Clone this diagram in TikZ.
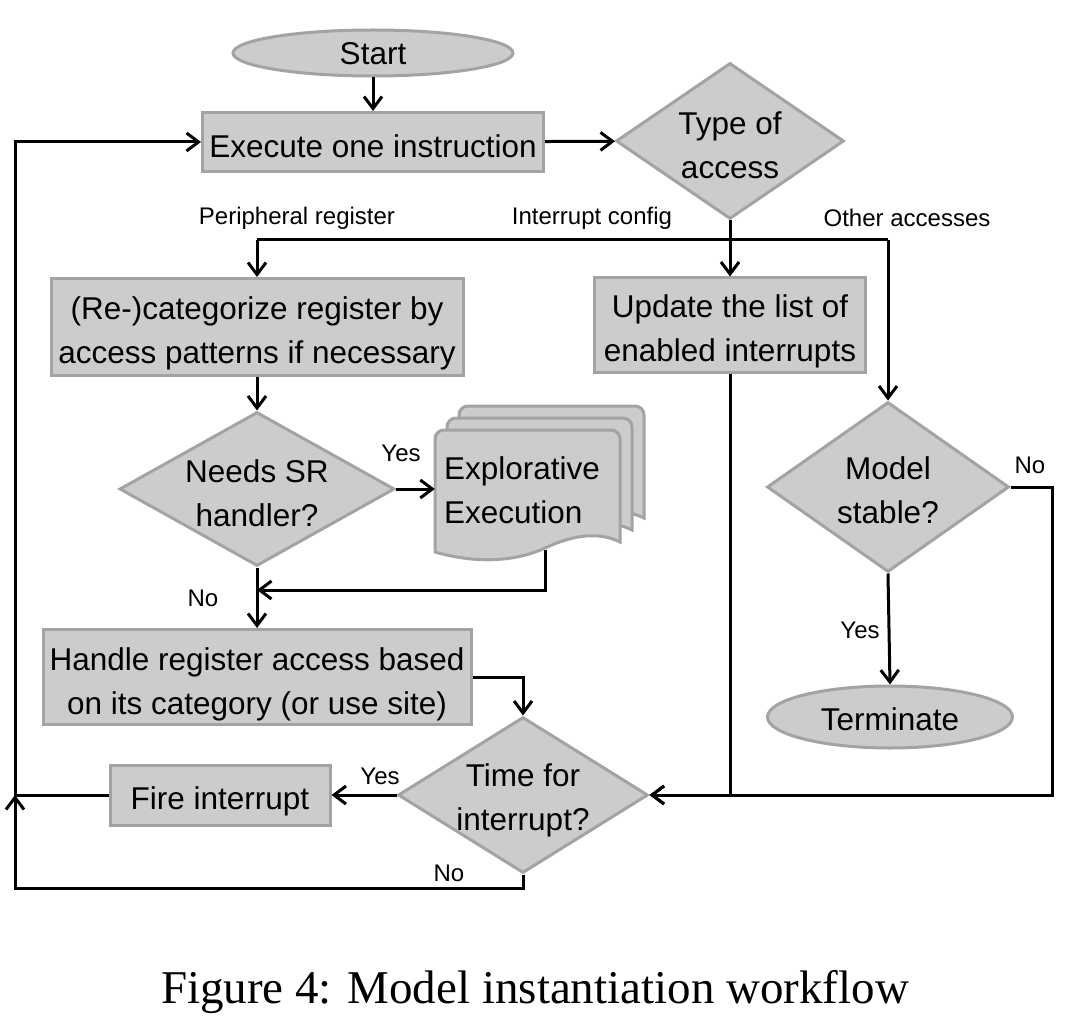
\documentclass[tikz,border=0pt]{standalone}
\usepackage{fontspec}
\setmainfont{Liberation Sans}
\newfontfamily\capserif{Liberation Serif}
\usetikzlibrary{arrows.meta,shapes.geometric}
\definecolor{fillgray}{HTML}{CCCCCC}
\definecolor{edgegray}{HTML}{A3A3A3}
\newcommand\mytxtL{\fontsize{31.5}{44}\selectfont}
\newcommand\mytxtS{\fontsize{24}{28}\selectfont}
\begin{document}
\begin{tikzpicture}[x=1pt,y=-1pt,
  shp/.style={draw=edgegray,fill=fillgray,line width=3pt,inner sep=0pt},
  boxn/.style={shp,rectangle},
  ell/.style={shp,ellipse},
  dia/.style={shp,diamond},
  tx/.style={font=\mytxtL,align=center,inner sep=0pt},
  conn/.style={line width=3pt,-{Straight Barb[length=12pt,width=18pt]}},
  lin/.style={line width=3pt},
  lbl/.style={font=\mytxtS,inner sep=0pt},
  docl/.style={draw=edgegray,fill=fillgray,line width=3pt}]
\useasboundingbox (0,0) rectangle (1079,1024);

% nodes
\node[ell,minimum width=280,minimum height=46,label={[tx,yshift=-1pt]center:Start}] (start) at (373,53) {};
\node[boxn,minimum width=341,minimum height=59,label={[tx,yshift=-4pt]center:Execute one instruction}] (exec) at (373,142) {};
\node[dia,minimum width=228,minimum height=156,label={[tx,yshift=-4pt]center:Type of\\access}] (toa) at (730,141) {};
\node[boxn,minimum width=412,minimum height=97,label={[tx,yshift=-6pt]center:(Re-)categorize register by\\access patterns if necessary}] (recat) at (257,327) {};
\node[boxn,minimum width=271,minimum height=94,label={[tx,yshift=-6pt]center:Update the list of\\enabled interrupts}] (upd) at (730,325) {};
\node[dia,minimum width=275,minimum height=154,label={[tx,yshift=-4pt]center:Needs SR\\handler?}] (nsr) at (257,489) {};
\node[boxn,minimum width=428,minimum height=95,label={[tx,yshift=-7pt]center:Handle register access based\\on its category (or use site)}] (handle) at (257,677) {};
\node[dia,minimum width=250,minimum height=156,label={[tx,yshift=-5pt]center:Time for\\interrupt?}] (tfi) at (523,795) {};
\node[boxn,minimum width=220,minimum height=60,label={[tx,yshift=-6pt]center:Fire interrupt}] (fire) at (220,795) {};
\node[dia,minimum width=242,minimum height=170,label={[tx,yshift=-3pt]center:Model\\stable?}] (ms) at (888,487) {};
\node[ell,minimum width=245,minimum height=62,label={[tx,yshift=-2pt]center:Terminate}] (term) at (890,717) {};

% explorative execution (stacked documents)
\foreach \dx/\dy in {24/-24,12/-12,0/0}{
  \draw[docl,rounded corners=9pt]
    (435+\dx,552+\dy) -- (435+\dx,430+\dy) -- (620+\dx,430+\dy)
    [sharp corners] -- (620+\dx,542+\dy)
    .. controls (600+\dx,532+\dy) and (575+\dx,534+\dy) .. (545+\dx,548+\dy)
    .. controls (510+\dx,564+\dy) and (470+\dx,562+\dy) .. (435+\dx,552+\dy) -- cycle;
}
\node[minimum width=185,minimum height=120,inner sep=0pt] (expl) at (527.5,490) {};
\node[tx,align=left] (expltxt) at (522,490) {Explorative\\Execution};
\coordinate (explbot) at (545,550);

% helper coordinates
\coordinate (brL) at (257,240);
\coordinate (brR) at (888,240);
\coordinate (j1) at (257,590);
\coordinate (loopT) at (15,142);
\coordinate (loopB) at (15,888);
\coordinate (msR) at (1052,487);

% connectors
\draw[conn] (start) -- (exec);
\draw[conn] (exec) -- (toa);
\draw[conn] (toa.south) -- (upd.north);
\draw[lin] (brL) -- (brR);
\draw[conn] (brL) -- (recat.north);
\draw[conn] (brR) -- (ms.north);
\draw[conn] (recat.south) -- (nsr.north);
\draw[conn] (nsr.east) -- (nsr.east -| expl.west);
\draw[conn] (explbot) |- (j1);
\draw[conn] (nsr.south) -- (handle.north);
\draw[conn] (handle.east) -| (tfi.north);
\draw[conn] (tfi.west) -- (fire.east);
\draw[conn] (fire.west) -- (fire.west -| loopT) -- (loopT) -- (exec.west);
\draw[conn] (tfi.south) |- (loopB) -- (fire.west -| loopB);
\draw[conn] (upd.south) |- (tfi.east);
\draw[conn] (ms.east) -- (msR) |- (tfi.east);
\draw[conn] (ms.south) -- (term.north);

% labels
\node[lbl] (lPer) at (297,218) {Peripheral register};
\node[lbl] (lInt) at (592,218) {Interrupt config};
\node[lbl] (lOth) at (907,218) {Other accesses};
\node[lbl] (lYes1) at (401,453) {Yes};
\node[lbl] (lNo1) at (203,598) {No};
\node[lbl] (lYes2) at (380,776) {Yes};
\node[lbl] (lNo2) at (449,873) {No};
\node[lbl] (lNo3) at (1030,465) {No};
\node[lbl] (lYes3) at (860,630) {Yes};

% caption
\node[font=\capserif\fontsize{47}{52}\selectfont,inner sep=0pt] (cap) at (535,992) {Figure 4: Model instantiation workflow};
\end{tikzpicture}
\end{document}
